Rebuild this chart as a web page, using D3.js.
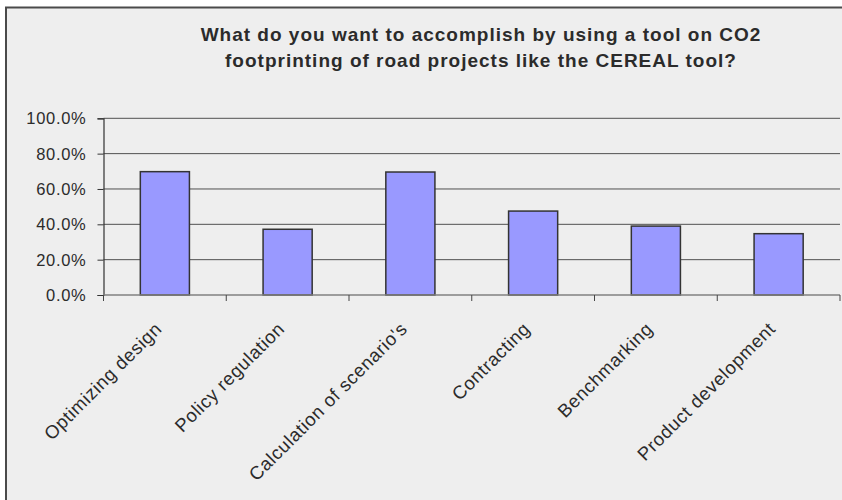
<!DOCTYPE html>
<html>
<head>
<meta charset="utf-8">
<script src="https://cdn.jsdelivr.net/npm/d3@7"></script>
<style>
  html, body { margin: 0; padding: 0; background: #ffffff; }
  svg { display: block; }
  text { font-family: "Liberation Sans", Arial, sans-serif; fill: #2b2b2b; }
</style>
</head>
<body>
<svg id="chart" width="842" height="500"></svg>
<script>
// Survey answers: share of respondents per intended use
const categories = [
  "Optimizing design",
  "Policy regulation",
  "Calculation of scenario's",
  "Contracting",
  "Benchmarking",
  "Product development"
];
const shares = [0.698, 0.372, 0.696, 0.475, 0.39, 0.347];
const yTicks = [0, 0.2, 0.4, 0.6, 0.8, 1.0];
const titleLines = [
  "What do you want to accomplish by using a tool on CO2",
  "footprinting of road projects like the CEREAL tool?"
];

const svg = d3.select("#chart");
const W = 842, H = 500;

// chart area with frame
svg.append("rect")
  .attr("x", 6).attr("y", 7.5)
  .attr("width", W + 10).attr("height", H + 10)
  .attr("fill", "#eeeeee")
  .attr("stroke", "#4a4a4a")
  .attr("stroke-width", 2);

const plot = { left: 103.5, right: 840, top: 118.3, bottom: 295 };

const x = d3.scaleBand()
  .domain(categories)
  .range([plot.left, plot.right])
  .padding(0);

const y = d3.scaleLinear()
  .domain([0, 1])
  .range([plot.bottom, plot.top]);

// title
svg.append("g").selectAll("text")
  .data(titleLines)
  .join("text")
  .attr("x", 481)
  .attr("y", (d, i) => 41 + i * 25.5)
  .attr("text-anchor", "middle")
  .attr("font-size", 19)
  .attr("font-weight", "bold")
  .attr("letter-spacing", 1)
  .text(d => d);

// horizontal gridlines
svg.append("g").selectAll("line")
  .data(yTicks.filter(t => t > 0))
  .join("line")
  .attr("x1", plot.left).attr("x2", plot.right)
  .attr("y1", d => y(d)).attr("y2", d => y(d))
  .attr("stroke", "#505050")
  .attr("stroke-width", 1);

// y axis
const yAxis = d3.axisLeft(y)
  .tickValues(yTicks)
  .tickSize(6)
  .tickPadding(11)
  .tickFormat(d3.format(".1%"));

const gy = svg.append("g")
  .attr("transform", `translate(${plot.left},0)`)
  .call(yAxis);
gy.select(".domain").attr("stroke", "#333").attr("stroke-width", 1.2);
gy.selectAll(".tick line").attr("stroke", "#333");
gy.selectAll(".tick text")
  .attr("font-size", 16.5)
  .attr("letter-spacing", 0.7)
  .attr("dy", "0.34em")
  .attr("fill", "#2b2b2b")
  .style("font-family", '"Liberation Sans", Arial, sans-serif');

// bars
const barW = x.bandwidth() * 0.4;
svg.append("g").selectAll("rect")
  .data(categories)
  .join("rect")
  .attr("x", (d) => x(d) + (x.bandwidth() - barW) / 2)
  .attr("y", (d, i) => y(shares[i]))
  .attr("width", barW)
  .attr("height", (d, i) => y(0) - y(shares[i]))
  .attr("fill", "#9999ff")
  .attr("stroke", "#333")
  .attr("stroke-width", 1.5);

// x axis line with ticks at category boundaries
svg.append("line")
  .attr("x1", plot.left).attr("x2", plot.right)
  .attr("y1", plot.bottom).attr("y2", plot.bottom)
  .attr("stroke", "#808080")
  .attr("stroke-width", 1.5);

const tickPos = categories.map(c => x(c)).concat([x(categories[categories.length - 1]) + x.bandwidth()]);
svg.append("g").selectAll("line")
  .data(tickPos)
  .join("line")
  .attr("x1", d => d).attr("x2", d => d)
  .attr("y1", plot.bottom).attr("y2", plot.bottom + 6)
  .attr("stroke", "#444")
  .attr("stroke-width", 1);

// rotated category labels
svg.append("g").selectAll("text")
  .data(categories)
  .join("text")
  .attr("transform", d => `translate(${x(d) + x.bandwidth() / 2 - 2},${plot.bottom + 35}) rotate(-45)`)
  .attr("text-anchor", "end")
  .attr("font-size", 18.5)
  .attr("letter-spacing", 0.6)
  .text(d => d);
</script>
</body>
</html>
